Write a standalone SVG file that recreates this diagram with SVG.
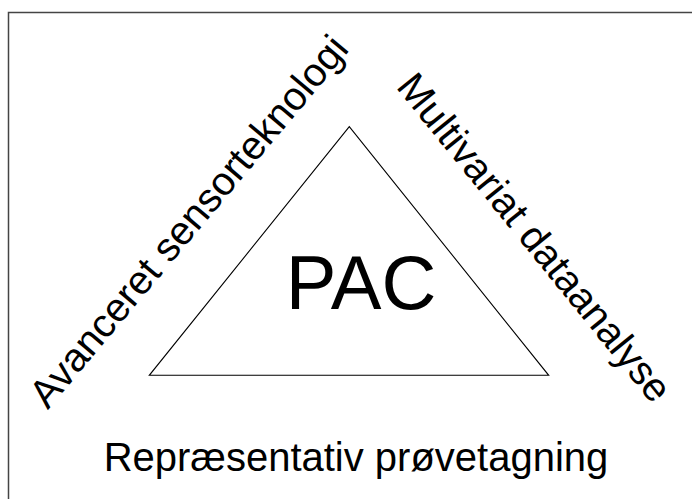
<svg xmlns="http://www.w3.org/2000/svg" width="692" height="499" viewBox="0 0 692 499">
<style>
.t{font-family:"Liberation Sans",Arial,sans-serif;fill:#000}
</style>
<rect x="0" y="0" width="692" height="499" fill="#fff"/>
<rect x="8.5" y="12.5" width="700" height="500" fill="none" stroke="#444" stroke-width="1.5"/>
<g id="triangle">
<polygon points="349.3,126.7 149.3,375.3 548.7,375.3" fill="#fff" stroke="#000" stroke-width="1.1"/>
<text class="t" x="361" y="308.7" font-size="76" text-anchor="middle">PAC</text>
</g>
<g id="left-label">
<text class="t" font-size="40" text-anchor="middle" transform="translate(199,230) rotate(-50)">Avanceret sensorteknologi</text>
</g>
<g id="right-label">
<text class="t" font-size="40" text-anchor="middle" transform="translate(524,246) rotate(51)">Multivariat dataanalyse</text>
</g>
<g id="bottom-label">
<text class="t" x="356" y="471" font-size="40" text-anchor="middle">Repræsentativ prøvetagning</text>
</g>
<g id="connectors"/>
</svg>
